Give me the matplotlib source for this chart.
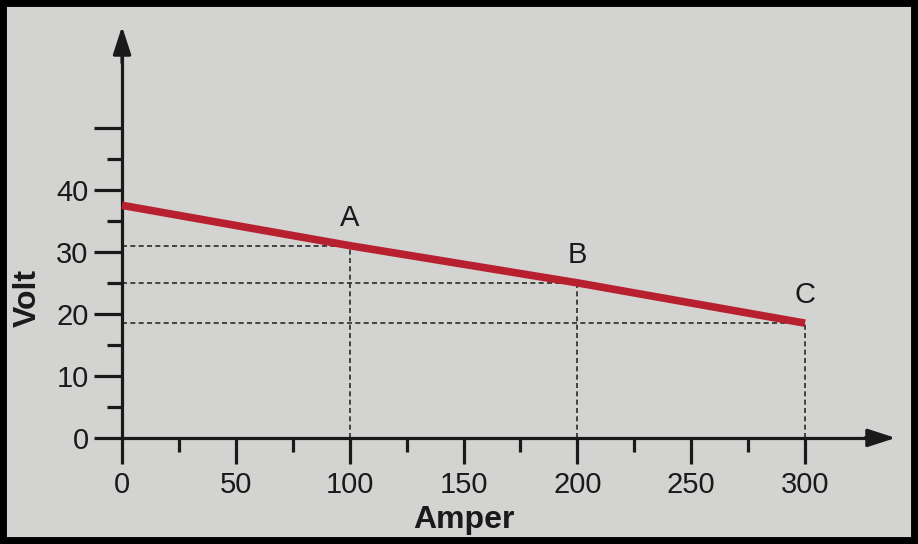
import matplotlib
matplotlib.use("Agg")
import matplotlib.pyplot as plt
from matplotlib.patches import Rectangle

# Data
amper = [0, 100, 200, 300]
volt = [37.5, 31, 25, 18.5]
point_labels = ["", "A", "B", "C"]
x_major = [0, 50, 100, 150, 200, 250, 300]
x_minor = [25, 75, 125, 175, 225, 275]
y_major = [0, 10, 20, 30, 40, 50]
y_labels = ["0", "10", "20", "30", "40", ""]
y_minor = [5, 15, 25, 35, 45]

plt.rcParams['font.family'] = ['Liberation Sans', 'DejaVu Sans']

paper = "#d3d3d1"
ink = "#1a1a1a"
fig = plt.figure(figsize=(9.18, 5.44), dpi=100, facecolor=paper)
ax = fig.add_axes([0, 0, 1, 1])
ax.set_facecolor(paper)
ax.set_xlim(-53.6, 349.6)
ax.set_ylim(-17.1, 70.6)

for s in ["top", "right"]:
    ax.spines[s].set_visible(False)
ax.spines["left"].set_position(("data", 0))
ax.spines["bottom"].set_position(("data", 0))
ax.spines["left"].set_bounds(0, 62)
ax.spines["bottom"].set_bounds(0, 330)
for s in ["left", "bottom"]:
    ax.spines[s].set_linewidth(2.3)
    ax.spines[s].set_color(ink)

ax.set_xticks(x_major)
ax.set_xticklabels([str(v) for v in x_major])
ax.set_xticks(x_minor, minor=True)
ax.set_yticks(y_major)
ax.set_yticklabels(y_labels)
ax.set_yticks(y_minor, minor=True)
ax.tick_params(axis="x", which="major", direction="out", length=19, width=2.3,
               labelsize=21, pad=5, color=ink, labelcolor=ink)
ax.tick_params(axis="x", which="minor", direction="out", length=10, width=2.3,
               color=ink)
ax.tick_params(axis="y", which="major", direction="out", length=20, width=2.3,
               labelsize=21, pad=4, color=ink, labelcolor=ink)
ax.tick_params(axis="y", which="minor", direction="out", length=11, width=2.3,
               color=ink)

# axis arrows
ax.annotate("", xy=(0, 66.8), xytext=(0, 60),
            arrowprops=dict(arrowstyle="-|>,head_length=1.7,head_width=0.55",
                            color=ink, lw=2.3))
ax.annotate("", xy=(341, 0), xytext=(325, 0),
            arrowprops=dict(arrowstyle="-|>,head_length=1.7,head_width=0.55",
                            color=ink, lw=2.3))

# dashed guide lines
for xa, v in zip(amper[1:], volt[1:]):
    ax.plot([0, xa], [v, v], linestyle=(0, (3, 2)), color="#2a2a2a", lw=1.2, zorder=2)
    ax.plot([xa, xa], [0, v], linestyle=(0, (3, 2)), color="#2a2a2a", lw=1.2, zorder=2)

# red line
ax.plot(amper, volt, color="#b8202f", lw=5.5, solid_capstyle="butt", zorder=3)

# point labels
for xa, v, lab in zip(amper, volt, point_labels):
    if lab:
        ax.annotate(lab, xy=(xa, v), xytext=(0, 10), textcoords="offset points",
                    ha="center", va="bottom", fontsize=21, color=ink)

ax.text(150, -13.3, "Amper", ha="center", va="center", fontsize=23,
        fontweight="bold", color=ink)
ax.text(-41.5, 22.5, "Volt", ha="center", va="center", fontsize=23,
        fontweight="bold", rotation=90, color=ink)

# black photo frame
fig.patches.append(Rectangle((0, 0), 1, 1, transform=fig.transFigure,
                             fill=False, edgecolor="black", lw=10, zorder=10))

fig.savefig("out.png", dpi=100, facecolor=paper)
